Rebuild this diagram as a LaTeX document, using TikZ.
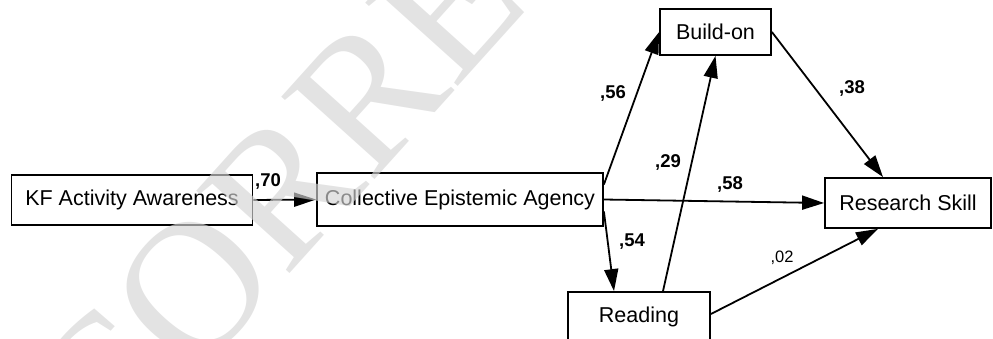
\documentclass[tikz,border=0pt]{standalone}
\usepackage{fontspec}
\setmainfont{Liberation Sans}
\newfontfamily\wmfont{Liberation Serif}
\usetikzlibrary{arrows.meta}
\begin{document}
\begin{tikzpicture}[x=1pt,y=-1pt,
  var/.style={draw=black, line width=1.8pt, fill=white, inner sep=0pt,
    font=\fontsize{21.5}{24}\selectfont},
  pathline/.style={draw=black, line width=1.8pt,
    -{Triangle[length=22pt,width=14pt]}},
  coef/.style={font=\bfseries\fontsize{18.5}{20}\selectfont, inner sep=0pt},
  coefweak/.style={font=\fontsize{16.5}{18}\selectfont, inner sep=0pt},
  watermark/.style={font=\wmfont\fontsize{190}{190}\selectfont,
    text=black!17, opacity=0.65, inner sep=0pt}
]
\useasboundingbox (0,0) rectangle (993,338);
\begin{scope}
\clip (0,0) rectangle (993,338);

% variables of the path model
\node[var, minimum width=241pt, minimum height=50pt] (kf)   at (132,200)   {KF Activity Awareness};
\node[var, minimum width=286pt, minimum height=53pt] (cea)  at (460,199.5) {Collective Epistemic Agency};
\node[var, minimum width=111pt, minimum height=46pt] (build) at (715.5,32)  {Build-on};
\node[var, minimum width=166pt, minimum height=50pt] (rs)   at (908,203)   {Research Skill};
\node[var, minimum width=142pt, minimum height=50pt] (read) at (639,317)   {Reading};

% structural paths
\draw[pathline] (kf.east) -- (cea.west);
\draw[pathline] ([yshift=15pt]cea.east) -- (build.west);
\draw[pathline] ([yshift=-12pt]cea.east) -- ([xshift=-25pt]read.north);
\draw[pathline] ([xshift=24pt]read.north) -- (build.south);
\draw[pathline] (cea.east) -- (rs.west);
\draw[pathline] (build.east) -- ([xshift=-25pt]rs.north);
\draw[pathline] ([yshift=3pt]read.east) -- ([xshift=-30pt]rs.south);

% path coefficients
\node[coef] (c70) at (268,181) {,70};
\node[coef] (c56) at (613,93)  {,56};
\node[coef] (c29) at (668,162) {,29};
\node[coef] (c58) at (730,184) {,58};
\node[coef] (c38) at (852,88)  {,38};
\node[coef] (c54) at (632,242) {,54};
\node[coefweak] (c02) at (782,258) {,02};

% diagonal proof stamp over the figure
\node[watermark, rotate=48, anchor=base west] (wm) at (-75,679) {UNCORRECTED PROOF};
\end{scope}
\end{tikzpicture}
\end{document}
